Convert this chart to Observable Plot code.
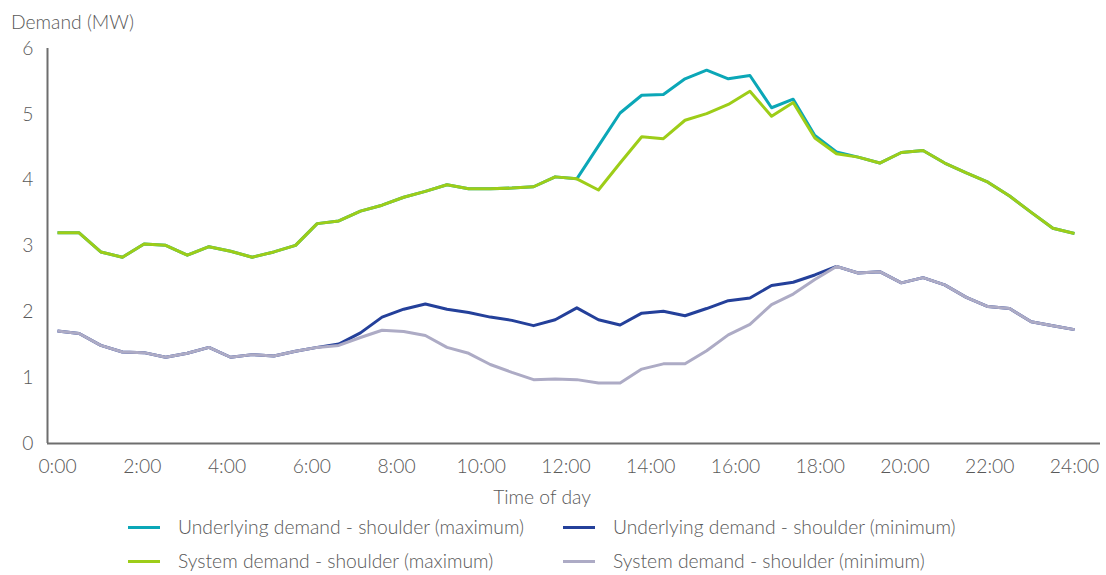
<!DOCTYPE html>
<html>
<head>
<meta charset="utf-8">
<script src="https://cdn.jsdelivr.net/npm/d3@7"></script>
<script src="https://cdn.jsdelivr.net/npm/@observablehq/plot@0.6"></script>
<style>
  body { margin: 0; background: #fff; font-family: Lato, "Open Sans", sans-serif; font-weight: 300; color: #595959; }
  #wrap { position: relative; width: 1106px; height: 575px; overflow: hidden; }
  #title { position: absolute; left: 11px; top: 10px; font-size: 19.3px; line-height: 24px; }
  #chart { position: absolute; left: 0; top: 36px; }
  #xlabel { position: absolute; left: 0; width: 1084px; top: 485px; text-align: center; font-size: 19.3px; line-height: 24px; }
  .leg { position: absolute; font-size: 19.3px; line-height: 24px; display: flex; align-items: center; white-space: nowrap; }
  .sw { width: 32px; height: 3px; margin-right: 18px; }
</style>
</head>
<body>
<div id="wrap">
  <div id="title">Demand (MW)</div>
  <div id="chart"></div>
  <div id="xlabel">Time of day</div>
  <div id="legend"></div>
</div>
<script>
// ---- data (48 half-hourly readings across the day) ----
const seriesNames = [
  "Underlying demand - shoulder (maximum)",
  "Underlying demand - shoulder (minimum)",
  "System demand - shoulder (maximum)",
  "System demand - shoulder (minimum)"
];
const seriesColors = ["#0ba7b7", "#24409a", "#9dcd18", "#adabc5"];

const underlyingMax = [3.20,3.20,2.91,2.83,3.03,3.01,2.86,2.99,2.92,2.83,2.91,3.01,3.34,3.38,3.53,3.62,3.74,3.83,3.93,3.87,3.87,3.88,3.90,4.05,
  4.02,4.52,5.02,5.29,5.30,5.54,5.67,5.54,5.59,5.10,5.23,4.68,4.43,4.35,4.26,4.42,4.45,4.26,4.11,3.97,3.76,3.51,3.27,3.19];
const underlyingMin = [1.71,1.67,1.49,1.39,1.38,1.31,1.37,1.46,1.31,1.35,1.33,1.40,1.46,1.51,1.68,1.92,2.04,2.12,2.04,1.99,1.92,1.87,1.79,1.88,
  2.06,1.88,1.80,1.98,2.01,1.94,2.05,2.17,2.21,2.40,2.45,2.56,2.69,2.59,2.61,2.44,2.52,2.41,2.22,2.08,2.05,1.85,1.79,1.73];
const systemMax = [3.20,3.20,2.91,2.83,3.03,3.01,2.86,2.99,2.92,2.83,2.91,3.01,3.34,3.38,3.53,3.62,3.74,3.83,3.93,3.87,3.87,3.88,3.90,4.05,
  4.02,3.85,4.26,4.66,4.63,4.91,5.01,5.15,5.35,4.97,5.18,4.64,4.40,4.35,4.26,4.42,4.45,4.26,4.11,3.97,3.76,3.51,3.27,3.19];
const systemMin = [1.71,1.67,1.49,1.39,1.38,1.31,1.37,1.46,1.31,1.35,1.33,1.40,1.46,1.49,1.61,1.72,1.70,1.64,1.46,1.37,1.20,1.08,0.97,0.98,
  0.97,0.92,0.92,1.13,1.21,1.21,1.41,1.65,1.81,2.11,2.27,2.49,2.69,2.59,2.61,2.44,2.52,2.41,2.22,2.08,2.05,1.85,1.79,1.73];

const tickHours = [0,2,4,6,8,10,12,14,16,18,20,22,24];
const tickLabels = ["0:00","2:00","4:00","6:00","8:00","10:00","12:00","14:00","16:00","18:00","20:00","22:00","24:00"];
const yTicks = [0,1,2,3,4,5,6];
const yTickLabels = ["0","1","2","3","4","5","6"];

// ---- build table ----
const seriesValues = [underlyingMax, underlyingMin, systemMax, systemMin];
const nPts = underlyingMax.length;
const rows = [];
seriesValues.forEach((vals, s) => vals.forEach((v, i) => rows.push({
  series: seriesNames[s], hour: i * 24 / (nPts - 1), value: v
})));
const bySeries = name => rows.filter(r => r.series === name);

const axisColor = "#6e6e6e";
const drawOrder = [0, 1, 2, 3]; // cyan, navy, green, grey (grey & green on top)

const chart = Plot.plot({
  width: 1106,
  height: 448,
  marginTop: 12,
  marginBottom: 41,
  marginLeft: 47,
  marginRight: 6,
  style: { fontFamily: "Lato, 'Open Sans', sans-serif", fontSize: "19.3px", color: "#595959", fontWeight: 300, background: "transparent" },
  x: { domain: [0, 24], insetLeft: 10, insetRight: 26 },
  y: { domain: [0, 6] },
  marks: [
    Plot.axisY({ ticks: yTicks, tickFormat: d => yTickLabels[yTicks.indexOf(d)], tickSize: 0, tickPadding: 14, label: null, fontSize: 19.3 }),
    Plot.axisX({ ticks: tickHours, tickFormat: d => tickLabels[tickHours.indexOf(d)], tickSize: 0, tickPadding: 16, label: null, fontSize: 19.3 }),
    ...drawOrder.map(s => Plot.line(bySeries(seriesNames[s]), {
      x: "hour", y: "value", stroke: seriesColors[s], strokeWidth: 3, strokeLinejoin: "round", strokeLinecap: "butt"
    })),
    Plot.ruleY([0], { stroke: axisColor, strokeWidth: 2 }),
    Plot.ruleX([0], { dx: -10, stroke: axisColor, strokeWidth: 2 })
  ]
});
document.getElementById("chart").appendChild(chart);

// ---- legend ----
const legendPos = [[128, 515], [563, 515], [128, 549], [563, 549]];
const legend = document.getElementById("legend");
seriesNames.forEach((name, s) => {
  const item = document.createElement("div");
  item.className = "leg";
  item.style.left = legendPos[s][0] + "px";
  item.style.top = legendPos[s][1] + "px";
  const sw = document.createElement("span");
  sw.className = "sw";
  sw.style.background = seriesColors[s];
  const tx = document.createElement("span");
  tx.textContent = name;
  item.appendChild(sw);
  item.appendChild(tx);
  legend.appendChild(item);
});
</script>
</body>
</html>
